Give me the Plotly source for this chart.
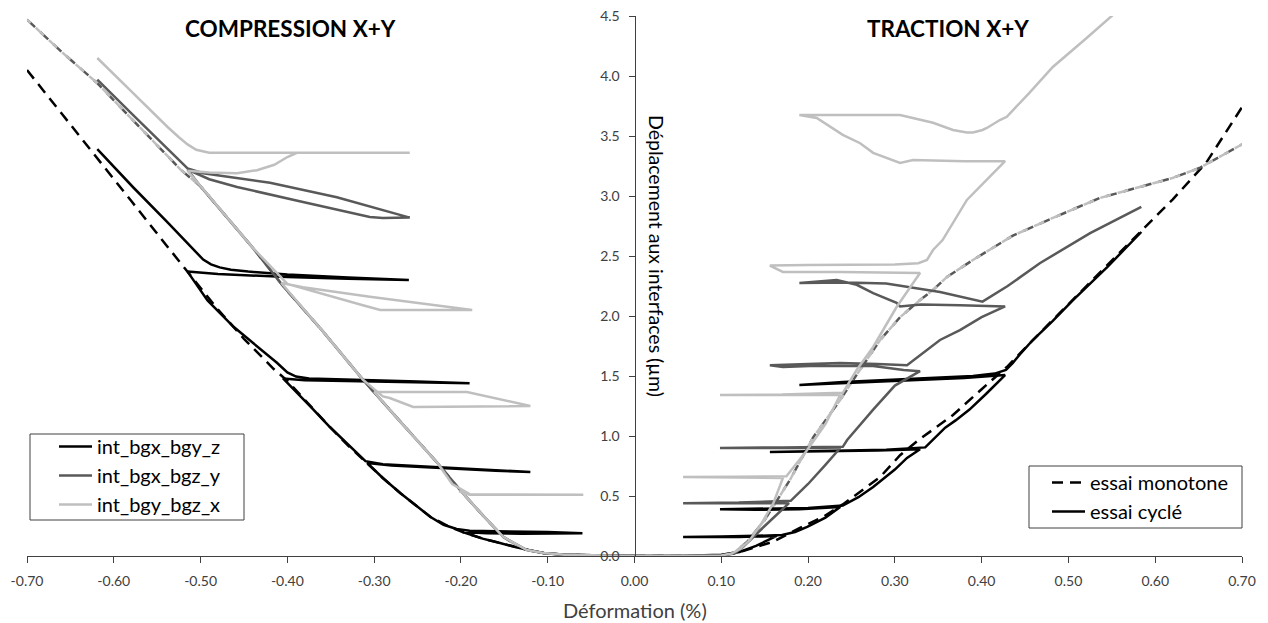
import plotly.graph_objects as go

# ---------------- data (x = Déformation %, y = Déplacement µm) ----------------
# monotone tests
mono_z_comp_x = [-0.70, -0.66, -0.62, -0.58, -0.545, -0.515, -0.483, -0.45, -0.416, -0.40, -0.37, -0.351,
                 -0.33, -0.308, -0.29, -0.27, -0.25, -0.235, -0.215, -0.198, -0.175, -0.155, -0.135, -0.12,
                 -0.105, -0.08, -0.04, 0.0]
mono_z_comp_y = [4.05, 3.69, 3.32, 2.96, 2.64, 2.37, 2.08, 1.81, 1.56, 1.46, 1.22, 1.075,
                 0.92, 0.77, 0.65, 0.525, 0.41, 0.325, 0.25, 0.20, 0.145, 0.108, 0.07, 0.045,
                 0.025, 0.01, 0.005, 0.0]
mono_z_trac_x = [0.0, 0.05, 0.10, 0.12, 0.16, 0.19, 0.217, 0.24, 0.26, 0.283, 0.306, 0.328, 0.348, 0.367,
                 0.40, 0.429, 0.47, 0.505, 0.545, 0.582, 0.62, 0.659, 0.70]
mono_z_trac_y = [0.0, 0.0, 0.005, 0.03, 0.12, 0.233, 0.325, 0.43, 0.533, 0.658, 0.84, 0.97, 1.075, 1.175,
                 1.39, 1.575, 1.88, 2.133, 2.42, 2.69, 2.97, 3.28, 3.74]

mono_y_comp_x = [-0.70, -0.66, -0.619, -0.57, -0.523, -0.50, -0.462, -0.44, -0.405, -0.36, -0.313, -0.27,
                 -0.227, -0.198, -0.175, -0.151, -0.135, -0.124, -0.105, -0.08, -0.04, 0.0]
mono_y_comp_y = [4.47, 4.20, 3.94, 3.57, 3.22, 3.08, 2.76, 2.57, 2.25, 1.88, 1.47, 1.12,
                 0.775, 0.525, 0.34, 0.158, 0.085, 0.05, 0.025, 0.01, 0.005, 0.0]
mono_y_trac_x = [0.0, 0.05, 0.10, 0.115, 0.13, 0.15, 0.179, 0.206, 0.237, 0.252, 0.283, 0.306, 0.329,
                 0.344, 0.36, 0.39, 0.436, 0.482, 0.536, 0.582, 0.62, 0.651, 0.695, 0.70]
mono_y_trac_y = [0.0, 0.0, 0.005, 0.03, 0.12, 0.30, 0.633, 0.99, 1.30, 1.467, 1.80, 1.99, 2.133,
                 2.217, 2.325, 2.467, 2.67, 2.817, 2.983, 3.075, 3.15, 3.233, 3.408, 3.43]

mono_x_comp_x = [-0.70, -0.66, -0.619, -0.57, -0.523, -0.50, -0.462, -0.44, -0.405, -0.36, -0.313, -0.27,
                 -0.227, -0.198, -0.175, -0.151, -0.135, -0.124, -0.105, -0.08, -0.04, 0.0]
mono_x_comp_y = [4.47, 4.20, 3.94, 3.57, 3.22, 3.08, 2.76, 2.57, 2.25, 1.88, 1.47, 1.12,
                 0.775, 0.525, 0.34, 0.158, 0.085, 0.05, 0.025, 0.01, 0.005, 0.0]
mono_x_trac_x = [0.0, 0.05, 0.10, 0.115, 0.13, 0.15, 0.179, 0.206, 0.237, 0.252, 0.283, 0.306, 0.329,
                 0.344, 0.36, 0.39, 0.436, 0.482, 0.536, 0.582, 0.62, 0.651, 0.695, 0.70]
mono_x_trac_y = [0.0, 0.0, 0.005, 0.03, 0.12, 0.30, 0.633, 0.99, 1.30, 1.467, 1.80, 1.99, 2.133,
                 2.217, 2.325, 2.467, 2.67, 2.817, 2.983, 3.075, 3.15, 3.233, 3.408, 3.43]

# cycled tests : int_bgx_bgy_z
cyc_z_comp_x = [0.0, -0.04, -0.08, -0.105, -0.12, -0.135, -0.155, -0.175, -0.198,
                -0.17, -0.13, -0.09, -0.06,
                -0.10, -0.15, -0.19, -0.205,
                -0.22, -0.235, -0.25, -0.27, -0.29, -0.308,
                -0.28, -0.22, -0.16, -0.12,
                -0.17, -0.24, -0.29, -0.31,
                -0.33, -0.351, -0.37, -0.39, -0.405,
                -0.38, -0.30, -0.24, -0.19,
                -0.25, -0.33, -0.375, -0.39,
                -0.40, -0.412, -0.44, -0.462, -0.492, -0.515,
                -0.48, -0.40, -0.33, -0.26,
                -0.33, -0.40, -0.445, -0.465, -0.478, -0.488, -0.497, -0.505, -0.512, -0.538, -0.578, -0.619]
cyc_z_comp_y = [0.0, 0.005, 0.01, 0.025, 0.045, 0.07, 0.108, 0.145, 0.20,
                0.19, 0.185, 0.185, 0.19,
                0.20, 0.205, 0.21, 0.225,
                0.26, 0.325, 0.41, 0.525, 0.65, 0.775,
                0.755, 0.73, 0.71, 0.70,
                0.72, 0.745, 0.765, 0.79,
                0.93, 1.075, 1.22, 1.37, 1.48,
                1.465, 1.455, 1.445, 1.44,
                1.455, 1.47, 1.48, 1.495,
                1.53, 1.61, 1.78, 1.91, 2.13, 2.37,
                2.35, 2.325, 2.31, 2.30,
                2.32, 2.345, 2.37, 2.385, 2.405, 2.43, 2.47, 2.53, 2.59, 2.78, 3.075, 3.39]
cyc_z_trac_x = [0.0, 0.05, 0.10, 0.121, 0.14, 0.164,
                0.12, 0.08, 0.056,
                0.10, 0.14, 0.17,
                0.185, 0.199, 0.22, 0.237,
                0.19, 0.14, 0.0985,
                0.15, 0.20, 0.24,
                0.258, 0.275, 0.29, 0.30, 0.314, 0.329,
                0.28, 0.21, 0.156,
                0.22, 0.29, 0.335,
                0.345, 0.358, 0.37, 0.386, 0.405, 0.427,
                0.38, 0.30, 0.24, 0.19,
                0.24, 0.32, 0.39, 0.415, 0.428,
                0.436, 0.444, 0.459, 0.482, 0.505, 0.545, 0.584]
cyc_z_trac_y = [0.0, 0.0, 0.01, 0.033, 0.085, 0.167,
                0.158, 0.155, 0.158,
                0.162, 0.168, 0.175,
                0.20, 0.242, 0.32, 0.408,
                0.39, 0.385, 0.39,
                0.395, 0.40, 0.42,
                0.49, 0.575, 0.66, 0.72, 0.817, 0.89,
                0.88, 0.87, 0.867,
                0.875, 0.885, 0.905,
                0.98, 1.07, 1.13, 1.22, 1.35, 1.508,
                1.483, 1.46, 1.445, 1.425,
                1.45, 1.48, 1.50, 1.52, 1.55,
                1.61, 1.68, 1.80, 1.96, 2.13, 2.41, 2.70]

# cycled tests : int_bgx_bgz_y
cyc_y_comp_x = [0.0, -0.04, -0.08, -0.105, -0.124, -0.151, -0.175, -0.198, -0.227, -0.27, -0.313, -0.36,
                -0.405, -0.44, -0.462, -0.50, -0.515,
                -0.49, -0.458, -0.42, -0.382, -0.305, -0.29, -0.259,
                -0.343, -0.420, -0.497, -0.515, -0.545, -0.58, -0.619]
cyc_y_comp_y = [0.0, 0.005, 0.01, 0.025, 0.05, 0.158, 0.34, 0.525, 0.775, 1.12, 1.47, 1.88,
                2.25, 2.57, 2.76, 3.08, 3.22,
                3.14, 3.075, 3.01, 2.95, 2.825, 2.817, 2.82,
                2.99, 3.11, 3.19, 3.23, 3.44, 3.69, 3.97]
cyc_y_trac_x = [0.0, 0.05, 0.10, 0.115, 0.125, 0.15, 0.178,
                0.12, 0.056, 0.12, 0.18,
                0.20, 0.22, 0.237,
                0.17, 0.0985, 0.17, 0.24,
                0.245, 0.275, 0.30, 0.329,
                0.31, 0.275, 0.21, 0.171, 0.156,
                0.20, 0.237, 0.28, 0.314,
                0.352, 0.375, 0.40, 0.427,
                0.375, 0.33, 0.306, 0.302, 0.275, 0.256, 0.233, 0.19,
                0.245, 0.29, 0.352, 0.401,
                0.43, 0.467, 0.525, 0.584]
cyc_y_trac_y = [0.0, 0.0, 0.005, 0.02, 0.075, 0.25, 0.44,
                0.44, 0.44, 0.445, 0.46,
                0.60, 0.76, 0.90,
                0.90, 0.90, 0.905, 0.91,
                0.967, 1.22, 1.42, 1.54,
                1.55, 1.583, 1.585, 1.575, 1.59,
                1.60, 1.608, 1.60, 1.59,
                1.80, 1.883, 1.99, 2.08,
                2.09, 2.095, 2.08, 2.11, 2.19, 2.26, 2.30, 2.275,
                2.28, 2.27, 2.20, 2.12,
                2.25, 2.44, 2.69, 2.91]

# cycled tests : int_bgy_bgz_x
cyc_x_comp_x = [0.0, -0.04, -0.08, -0.105, -0.124, -0.151, -0.175, -0.198, -0.202,
                -0.19, -0.12, -0.059, -0.12, -0.19, -0.21,
                -0.227, -0.27, -0.30,
                -0.193, -0.120, -0.255, -0.282, -0.29,
                -0.313, -0.36, -0.407,
                -0.382, -0.305, -0.187, -0.293, -0.313, -0.362, -0.400,
                -0.44, -0.462, -0.50, -0.515,
                -0.49, -0.458, -0.435, -0.415, -0.400, -0.389, -0.259,
                -0.40, -0.477, -0.49, -0.505, -0.515, -0.525, -0.538, -0.578, -0.619]
cyc_x_comp_y = [0.0, 0.005, 0.01, 0.025, 0.05, 0.158, 0.34, 0.525, 0.54,
                0.51, 0.51, 0.51, 0.51, 0.515, 0.60,
                0.775, 1.12, 1.367,
                1.367, 1.25, 1.242, 1.317, 1.33,
                1.47, 1.88, 2.275,
                2.24, 2.16, 2.05, 2.05, 2.09, 2.19, 2.267,
                2.57, 2.76, 3.08, 3.21,
                3.195, 3.19, 3.215, 3.26, 3.325, 3.36, 3.36,
                3.36, 3.355, 3.36, 3.385, 3.43, 3.49, 3.575, 3.86, 4.15]
cyc_x_trac_x = [0.0, 0.05, 0.10, 0.112, 0.122, 0.133, 0.147, 0.160, 0.171,
                0.12, 0.056, 0.12, 0.175,
                0.199, 0.22, 0.237,
                0.17, 0.0985, 0.17, 0.24,
                0.256, 0.275, 0.302, 0.329,
                0.237, 0.171, 0.156,
                0.20, 0.30, 0.327, 0.337,
                0.344, 0.355, 0.383, 0.427,
                0.38, 0.321, 0.306, 0.29, 0.275, 0.26, 0.24, 0.21, 0.19,
                0.25, 0.306, 0.344, 0.367, 0.383, 0.39, 0.401, 0.406, 0.421, 0.429, 0.455, 0.482, 0.52, 0.553]
cyc_x_trac_y = [0.0, 0.0, 0.005, 0.02, 0.06, 0.133, 0.28, 0.44, 0.65,
                0.655, 0.658, 0.66, 0.665,
                0.883, 1.10, 1.342,
                1.342, 1.342, 1.345, 1.36,
                1.55, 1.742, 2.075, 2.358,
                2.367, 2.367, 2.42,
                2.425, 2.43, 2.44, 2.467,
                2.55, 2.633, 2.967, 3.29,
                3.29, 3.30, 3.275, 3.317, 3.36, 3.44, 3.51, 3.65, 3.675,
                3.675, 3.675, 3.61, 3.55, 3.53, 3.53, 3.55, 3.567, 3.633, 3.66, 3.86, 4.075, 4.31, 4.52]

series_names = ["int_bgx_bgy_z", "int_bgx_bgz_y", "int_bgy_bgz_x"]
test_names = ["essai monotone", "essai cyclé"]
x_tick_vals = [-0.70, -0.60, -0.50, -0.40, -0.30, -0.20, -0.10, 0.00, 0.10, 0.20, 0.30, 0.40, 0.50, 0.60, 0.70]
x_tick_text = ["-0.70", "-0.60", "-0.50", "-0.40", "-0.30", "-0.20", "-0.10", "0.00",
               "0.10", "0.20", "0.30", "0.40", "0.50", "0.60", "0.70"]
y_tick_vals = [0.0, 0.5, 1.0, 1.5, 2.0, 2.5, 3.0, 3.5, 4.0, 4.5]
y_tick_text = ["0.0", "0.5", "1.0", "1.5", "2.0", "2.5", "3.0", "3.5", "4.0", "4.5"]
panel_titles = ["COMPRESSION X+Y", "TRACTION X+Y"]
x_title = "Déformation (%)"
y_title = "Déplacement aux interfaces (µm)"

# ---------------- styles ----------------
BLACK, DARK, LIGHT = "#000000", "#595959", "#bfbfbf"
W = 2.5
DASH_A = "11px,7px"
DASH_B = "5px,7px,6px,0px"   # same period, shifted phase

fig = go.Figure()


def add(x, y, color, dash="solid", name=None, show=False):
    fig.add_trace(go.Scatter(
        x=x, y=y, mode="lines", name=name, showlegend=show,
        legendgroup=name, line=dict(color=color, width=W, dash=dash),
        hoverinfo="skip"))


# monotone (dashed) below
add(mono_z_comp_x, mono_z_comp_y, BLACK, DASH_A)
add(mono_z_trac_x, mono_z_trac_y, BLACK, DASH_A)
add(mono_y_comp_x, mono_y_comp_y, DARK, DASH_A)
add(mono_y_trac_x, mono_y_trac_y, DARK, DASH_A)
add(mono_x_comp_x, mono_x_comp_y, LIGHT, DASH_B)
add(mono_x_trac_x, mono_x_trac_y, LIGHT, DASH_B)

# cycled (solid)
add(cyc_z_comp_x, cyc_z_comp_y, BLACK, name=series_names[0], show=True)
add(cyc_z_trac_x, cyc_z_trac_y, BLACK)
add(cyc_y_comp_x, cyc_y_comp_y, DARK, name=series_names[1], show=True)
add(cyc_y_trac_x, cyc_y_trac_y, DARK)
add(cyc_x_comp_x, cyc_x_comp_y, LIGHT, name=series_names[2], show=True)
add(cyc_x_trac_x, cyc_x_trac_y, LIGHT)

# second legend (line style keys)
fig.add_trace(go.Scatter(x=[None], y=[None], mode="lines", name=test_names[0], legend="legend2",
                         legendgroup="m", line=dict(color=BLACK, width=W, dash=DASH_A)))
fig.add_trace(go.Scatter(x=[None], y=[None], mode="lines", name=test_names[1], legend="legend2",
                         legendgroup="c", line=dict(color=BLACK, width=W)))

FONT = "Lato, 'Open Sans', sans-serif"
AX = "#404040"
TOP = 16
PLOT_W = 1268 - 27 - 26
PLOT_H = 623 - TOP - 67


def px_(pix):  # pixel column -> paper x
    return (pix - 27) / PLOT_W


def py(pix):  # pixel row -> paper y
    return (556 - pix) / PLOT_H


legend_boxes = [(30, 434, 244, 520), (1029, 466, 1242, 528)]
shapes = [dict(type="rect", xref="paper", yref="paper", layer="above",
               x0=px_(a), x1=px_(c), y0=py(d), y1=py(b),
               fillcolor="white", line=dict(color=AX, width=1))
          for (a, b, c, d) in legend_boxes]

fig.update_layout(
    width=1268, height=623,
    margin=dict(l=27, r=26, t=TOP, b=67, autoexpand=False),
    paper_bgcolor="white", plot_bgcolor="white",
    font=dict(family=FONT, color="#404040", size=14),
    xaxis=dict(range=[-0.7, 0.7], tickvals=x_tick_vals, ticktext=x_tick_text,
               showgrid=False, zeroline=False, showline=True, linecolor=AX, linewidth=1,
               ticks="outside", ticklen=6, tickcolor=AX, tickfont=dict(size=14, color="#404040"),
               ticklabelstandoff=6, automargin=False),
    yaxis=dict(range=[0, 4.5], tickvals=y_tick_vals, ticktext=y_tick_text,
               anchor="free", position=0.5,
               showgrid=False, zeroline=False, showline=True, linecolor=AX, linewidth=1,
               ticks="outside", ticklen=6, tickcolor=AX, tickfont=dict(size=14, color="#404040"),
               ticklabelstandoff=6, automargin=False),
    shapes=shapes,
    legend=dict(x=px_(32), y=py(427), xanchor="left", yanchor="top",
                bgcolor="rgba(0,0,0,0)", borderwidth=0,
                font=dict(size=20, color="#000000", family=FONT),
                traceorder="normal", indentation=22, itemwidth=33),
    legend2=dict(x=px_(1031), y=py(463), xanchor="left", yanchor="top",
                 bgcolor="rgba(0,0,0,0)", borderwidth=0,
                 font=dict(size=20, color="#000000", family=FONT),
                 traceorder="normal", indentation=16, itemwidth=33),
    annotations=[
        dict(text="<b>%s</b>" % panel_titles[0], x=px_(290), y=py(28), xref="paper", yref="paper",
             xanchor="center", yanchor="middle",
             showarrow=False, font=dict(size=22.5, color="#000000", family=FONT)),
        dict(text="<b>%s</b>" % panel_titles[1], x=px_(948), y=py(28), xref="paper", yref="paper",
             xanchor="center", yanchor="middle",
             showarrow=False, font=dict(size=22.5, color="#000000", family=FONT)),
        dict(text=y_title, x=px_(657), y=py(256), xref="paper", yref="paper", textangle=90,
             xanchor="center", yanchor="middle",
             showarrow=False, font=dict(size=19.5, color="#000000", family=FONT)),
        dict(text=x_title, x=0.5, y=py(610), xref="paper", yref="paper",
             xanchor="center", yanchor="middle",
             showarrow=False, font=dict(size=20, color="#404040", family=FONT)),
    ],
)

fig.write_html("out.html", config={"displayModeBar": False},
               post_script="document.body.style.margin='0';")
